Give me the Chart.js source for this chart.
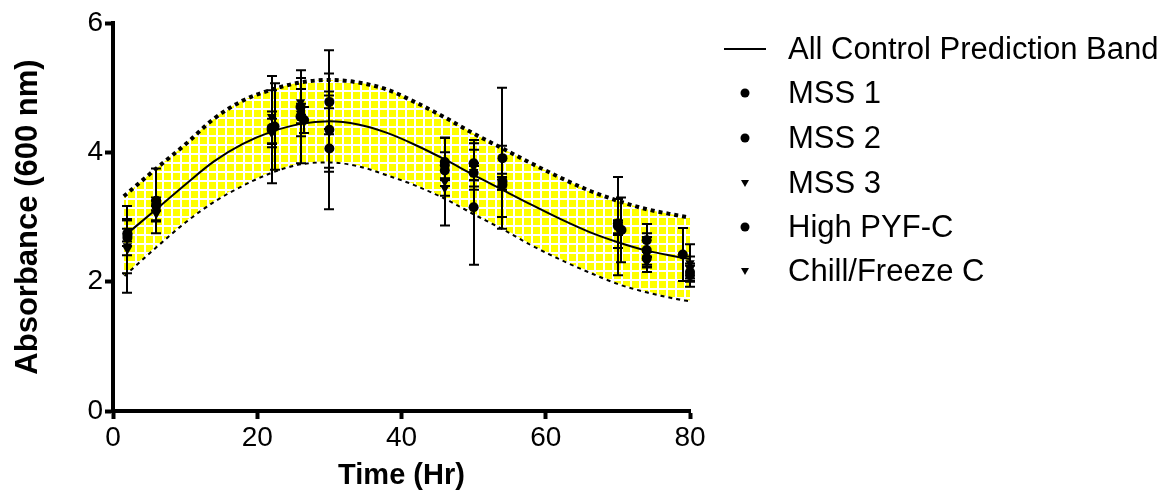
<!DOCTYPE html>
<html><head><meta charset="utf-8">
<script src="https://cdn.jsdelivr.net/npm/chart.js@4/dist/chart.umd.min.js"></script>
<style>
html,body{margin:0;padding:0;background:#fff;}
#wrap{position:relative;width:1169px;height:501px;overflow:hidden;}
#c{position:absolute;left:0;top:0;}
#legend{position:absolute;left:0;top:0;width:1169px;height:501px;font-family:"Liberation Sans",Arial,sans-serif;font-size:31px;color:#000;}
.row{position:absolute;left:0;height:36px;line-height:36px;white-space:nowrap;}
.row svg{position:absolute;left:718px;top:0;}
.row span{position:absolute;left:788px;top:0;}
</style></head><body>
<div id="wrap"><canvas id="c" width="1169" height="501"></canvas><div id="legend"></div></div>
<script>
// ---- data ----
const bandTime  = [1.5,6,10,14,18,22,26,30,34,38,42,46,50,54,58,62,66,70,74,78,80];
const bandFit   = [2.70,3.12,3.50,3.86,4.13,4.32,4.44,4.48,4.43,4.30,4.11,3.89,3.65,3.42,3.19,2.97,2.77,2.61,2.48,2.39,2.35];
const bandUpper = [3.32,3.75,4.12,4.52,4.80,4.97,5.08,5.12,5.08,4.97,4.77,4.54,4.29,4.06,3.83,3.61,3.41,3.25,3.12,3.03,2.99];
const bandLower = [2.10,2.55,2.93,3.25,3.50,3.70,3.83,3.86,3.80,3.66,3.50,3.30,3.06,2.83,2.58,2.36,2.16,1.98,1.85,1.75,1.71];

const mss1Time = [2,6,22,26,30,46,50,54,70,74,79];
const mss1Mean = [2.75,3.25,4.35,4.55,4.35,3.85,3.15,3.91,2.86,2.64,2.42];
const mss1Err  = [0.20,0.50,0.83,0.72,1.23,0.37,0.89,1.09,0.76,0.25,0.41];

const mss2Time = [2,6,22.4,26,30,46,50,54,70,74,80];
const mss2Mean = [2.68,3.20,4.40,4.70,4.06,3.72,3.83,3.55,2.90,2.49,2.10];
const mss2Err  = [0.27,0.10,0.67,0.45,0.30,0.13,0.36,0.55,0.38,0.26,0.18];

const mss3Time = [2,6,22,26,30,46,50,54,70,74,80];
const mss3Mean = [2.50,3.10,4.55,4.78,4.75,3.45,3.70,3.57,2.85,2.42,2.29];
const mss3Err  = [0.67,0.15,0.41,0.20,0.47,0.12,0.13,0.10,0.10,0.27,0.29];

const highTime = [2,6,22,26.5,30,46,50,54,70.5,74,80];
const highMean = [2.72,3.18,4.38,4.50,4.78,3.80,3.68,3.50,2.80,2.36,2.15];
const highErr  = [0.10,0.08,0.25,0.20,0.10,0.20,0.11,0.08,0.50,0.10,0.10];

const chillTime = [2,6,22,26,30,46,50,54,70,74,80];
const chillMean = [2.55,3.05,4.30,4.60,4.32,3.55,3.78,3.52,2.82,2.30,2.20];
const chillErr  = [0.42,0.12,0.22,0.15,0.62,0.68,0.36,0.10,0.10,0.08,0.19];

const xTicks = [0,20,40,60,80];
const yTicks = [0,2,4,6];
const labels = ['All Control Prediction Band','MSS 1','MSS 2','MSS 3','High PYF-C','Chill/Freeze C'];

// ---- helpers ----
const pts = (xs, ys) => xs.map((x, i) => ({x, y: ys[i]}));

const pc = document.createElement('canvas');
pc.width = 9; pc.height = 9;
const pctx = pc.getContext('2d');
pctx.fillStyle = '#ffff00'; pctx.fillRect(0, 0, 9, 9);
pctx.fillStyle = '#ffffff'; pctx.fillRect(0, 0, 9, 2); pctx.fillRect(0, 0, 2, 9);
const bandPattern = document.getElementById('c').getContext('2d').createPattern(pc, 'repeat');

const FONT = '"Liberation Sans", Arial, sans-serif';

function scatterDs(label, xs, ys, errs, style) {
  return {
    type: 'scatter', label, data: pts(xs, ys), errors: errs,
    pointStyle: style, rotation: style === 'triangle' ? 180 : 0,
    pointRadius: style === 'triangle' ? 5.5 : 5,
    backgroundColor: '#000', borderColor: '#000', borderWidth: 0,
    showLine: false, order: 0, clip: false
  };
}

const errorBars = {
  id: 'errorBars',
  afterDatasetsDraw(chart) {
    const ctx = chart.ctx, xs = chart.scales.x, ys = chart.scales.y;
    ctx.save();
    ctx.strokeStyle = '#000'; ctx.lineWidth = 2;
    chart.data.datasets.forEach((ds, i) => {
      if (!ds.errors || !chart.isDatasetVisible(i)) return;
      ds.data.forEach((p, j) => {
        const e = ds.errors[j];
        const px = Math.round(xs.getPixelForValue(p.x));
        const yt = ys.getPixelForValue(p.y + e), yb = ys.getPixelForValue(p.y - e);
        ctx.beginPath();
        ctx.moveTo(px, yt); ctx.lineTo(px, yb);
        ctx.moveTo(px - 5, yt); ctx.lineTo(px + 5, yt);
        ctx.moveTo(px - 5, yb); ctx.lineTo(px + 5, yb);
        ctx.stroke();
      });
    });
    ctx.restore();
  }
};

const datasets = [
  { type: 'line', label: 'upper', data: pts(bandTime, bandUpper), borderColor: '#000', borderWidth: 4,
    borderDash: [4, 4], pointRadius: 0, fill: 1, backgroundColor: bandPattern, cubicInterpolationMode: 'monotone', order: 3 },
  { type: 'line', label: 'lower', data: pts(bandTime, bandLower), borderColor: '#000', borderWidth: 4,
    borderDash: [4, 4], pointRadius: 0, fill: false, cubicInterpolationMode: 'monotone', order: 3 },
  { type: 'line', label: labels[0], data: pts(bandTime, bandFit), borderColor: '#000', borderWidth: 2,
    pointRadius: 0, fill: false, cubicInterpolationMode: 'monotone', order: 2 },
  scatterDs(labels[1], mss1Time, mss1Mean, mss1Err, 'circle'),
  scatterDs(labels[2], mss2Time, mss2Mean, mss2Err, 'circle'),
  scatterDs(labels[3], mss3Time, mss3Mean, mss3Err, 'triangle'),
  scatterDs(labels[4], highTime, highMean, highErr, 'circle'),
  scatterDs(labels[5], chillTime, chillMean, chillErr, 'triangle')
];

const axisCommon = {
  border: { display: true, color: '#000', width: 4 },
  grid: { drawOnChartArea: false, drawTicks: true, tickLength: 8, tickWidth: 4, tickColor: '#000', color: '#000' }
};

new Chart(document.getElementById('c'), {
  type: 'scatter',
  data: { datasets },
  options: {
    responsive: false, animation: false, devicePixelRatio: 1,
    layout: { padding: { left: 0, right: 479, top: 23, bottom: 0 } },
    plugins: { legend: { display: false }, tooltip: { enabled: false } },
    scales: {
      x: {
        type: 'linear', min: 0, max: 80,
        afterBuildTicks: s => { s.ticks = xTicks.map(v => ({value: v})); },
        afterFit: s => { s.height = 90; },
        ticks: { color: '#000', font: { family: FONT, size: 28 }, padding: 2, maxRotation: 0 },
        title: { display: true, text: 'Time (Hr)', color: '#000', font: { family: FONT, size: 29, weight: 'bold' }, padding: { top: 0, bottom: 8 } },
        ...axisCommon
      },
      y: {
        type: 'linear', min: 0, max: 6,
        afterBuildTicks: s => { s.ticks = yTicks.map(v => ({value: v})); },
        afterFit: s => { s.width = 113; },
        ticks: { color: '#000', font: { family: FONT, size: 28 }, padding: 2 },
        title: { display: true, text: 'Absorbance (600 nm)', color: '#000', font: { family: FONT, size: 31, weight: 'bold' }, padding: { top: 10, bottom: 0 } },
        ...axisCommon
      }
    }
  },
  plugins: [errorBars]
});

// ---- HTML legend built from dataset labels ----
const legendEl = document.getElementById('legend');
const rowCenters = [49, 93, 138, 183, 227, 271];
const legendStyles = ['line', 'circle', 'circle', 'triangle', 'circle', 'triangle'];
labels.forEach((lab, i) => {
  const row = document.createElement('div');
  row.className = 'row';
  row.style.top = (rowCenters[i] - 18) + 'px';
  let svg;
  if (legendStyles[i] === 'line') svg = '<line x1="6" y1="18" x2="48" y2="18" stroke="#000" stroke-width="1.8"/>';
  else if (legendStyles[i] === 'circle') svg = '<circle cx="27" cy="18" r="4.5" fill="#000"/>';
  else svg = '<polygon points="23,15 31,15 27,22" fill="#000"/>';
  row.innerHTML = '<svg width="60" height="36">' + svg + '</svg><span>' + lab + '</span>';
  legendEl.appendChild(row);
});
</script>
</body></html>
